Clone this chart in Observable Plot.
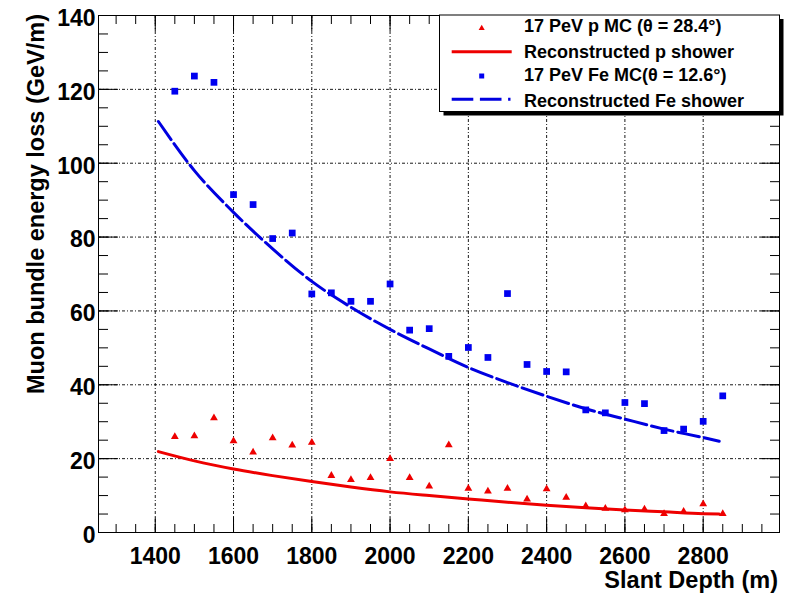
<!DOCTYPE html>
<html>
<head>
<meta charset="utf-8">
<script src="https://cdn.jsdelivr.net/npm/d3@7"></script>
<script src="https://cdn.jsdelivr.net/npm/@observablehq/plot@0.6"></script>
<style>
  html, body { margin: 0; padding: 0; background: #fff; }
  svg { display: block; }
</style>
</head>
<body>
<div id="chart"></div>
<script>
// Simulated points (slant depth in m, energy loss in GeV/m)
const depth = [1450, 1500, 1550, 1600, 1650, 1700, 1750, 1800, 1850, 1900,
               1950, 2000, 2050, 2100, 2150, 2200, 2250, 2300, 2350, 2400,
               2450, 2500, 2550, 2600, 2650, 2700, 2750, 2800, 2850];
const pLoss = [25.9, 26.1, 31.0, 24.8, 21.7, 25.6, 23.6, 24.4, 15.4, 14.3,
               14.8, 20.0, 14.8, 12.5, 23.7, 11.9, 11.2, 11.9, 9.0, 11.8,
               9.5, 7.2, 6.5, 6.1, 6.3, 5.1, 5.7, 7.7, 5.1];
const feLoss = [119.5, 123.6, 121.9, 91.5, 88.8, 79.6, 81.1, 64.6, 64.9, 62.6,
                62.6, 67.3, 54.8, 55.2, 47.7, 50.1, 47.4, 64.7, 45.5, 43.6,
                43.5, 33.2, 32.4, 35.2, 34.9, 27.6, 28.0, 30.1, 37.0];

// Reconstructed shower curves
const fitDepth = [1408, 1500, 1600, 1700, 1800, 1900, 2000, 2100, 2200, 2300,
                  2400, 2500, 2600, 2700, 2800, 2841];
const pFit = [21.9, 19.4, 17.2, 15.4, 13.8, 12.3, 11.0, 10.0, 9.1, 8.2,
              7.4, 6.7, 6.1, 5.6, 5.1, 5.0];
const feFit = [111.3, 98.0, 86.7, 76.8, 68.0, 61.0, 55.0, 49.7, 44.7, 40.6,
               36.9, 33.5, 30.7, 28.0, 25.7, 24.7];

// Axis ticks
const xMajor = [1400, 1600, 1800, 2000, 2200, 2400, 2600, 2800];
const xMinor = d3.range(1300, 2951, 50);
const yMajor = [0, 20, 40, 60, 80, 100, 120, 140];
const yMinor = d3.range(0, 141, 5);
const yGrid = [20, 40, 60, 80, 100, 120];

const legendLabels = [
  "17 PeV p MC (\u03b8 = 28.4\u00b0)",
  "Reconstructed p shower",
  "17 PeV Fe MC(\u03b8 = 12.6\u00b0)",
  "Reconstructed Fe shower"
];

const RED = "#ee0000";
const BLUE = "#0000f0";
const FONT = "'Liberation Sans', Arial, Helvetica, sans-serif";

const pPoints = depth.map((d, i) => ({depth: d, loss: pLoss[i]}));
const fePoints = depth.map((d, i) => ({depth: d, loss: feLoss[i]}));
const pCurve = fitDepth.map((d, i) => ({depth: d, loss: pFit[i]}));
const feCurve = fitDepth.map((d, i) => ({depth: d, loss: feFit[i]}));

const gridStyle = {stroke: "#000", strokeOpacity: 0.9, strokeWidth: 1, strokeDasharray: "3,2,1,2"};
const tickStyle = {fill: "none", stroke: "#000", strokeWidth: 1, label: null};
const labelStyle = {tickSize: 0, fontSize: 23, fontWeight: "bold", fill: "#000", label: null,
                    tickFormat: d => String(d)};

const chart = Plot.plot({
  width: 785,
  height: 593,
  marginLeft: 98,
  marginRight: 6,
  marginTop: 15,
  marginBottom: 61,
  style: {fontFamily: FONT, background: "#fff", color: "#000"},
  x: {domain: [1255, 2995]},
  y: {domain: [0, 140]},
  marks: [
    Plot.gridX(xMajor, gridStyle),
    Plot.gridY(yGrid, gridStyle),
    Plot.line(pCurve, {x: "depth", y: "loss", stroke: RED, strokeWidth: 3, curve: "monotone-x"}),
    Plot.line(feCurve, {x: "depth", y: "loss", stroke: "#0000e0", strokeWidth: 3,
                        strokeDasharray: "22,5", curve: "monotone-x"}),
    Plot.dot(pPoints, {x: "depth", y: "loss", symbol: "triangle", r: 2.9, fill: RED, stroke: "none"}),
    Plot.dot(fePoints, {x: "depth", y: "loss", symbol: "square", r: 3.8, fill: BLUE, stroke: "none"}),
    Plot.frame({stroke: "#000", strokeWidth: 1}),
    // inward ticks on all four sides
    Plot.axisX({...tickStyle, anchor: "bottom", ticks: xMinor, tickSize: -8}),
    Plot.axisX({...tickStyle, anchor: "bottom", ticks: xMajor, tickSize: -15}),
    Plot.axisX({...tickStyle, anchor: "top", ticks: xMinor, tickSize: -8}),
    Plot.axisX({...tickStyle, anchor: "top", ticks: xMajor, tickSize: -15}),
    Plot.axisY({...tickStyle, anchor: "left", ticks: yMinor, tickSize: -10}),
    Plot.axisY({...tickStyle, anchor: "left", ticks: yMajor, tickSize: -20}),
    Plot.axisY({...tickStyle, anchor: "right", ticks: yMinor, tickSize: -10}),
    Plot.axisY({...tickStyle, anchor: "right", ticks: yMajor, tickSize: -20}),
    // tick labels
    Plot.axisX({...labelStyle, anchor: "bottom", ticks: xMajor, tickPadding: 15}),
    Plot.axisY({...labelStyle, anchor: "left", ticks: yMajor, tickPadding: 3, dy: 3})
  ]
});

document.getElementById("chart").appendChild(chart);

const svg = d3.select(chart);

// Axis titles
svg.append("text")
  .attr("transform", "translate(43.5,204) rotate(-90)")
  .attr("text-anchor", "middle")
  .attr("font-family", FONT)
  .attr("font-weight", "bold")
  .attr("font-size", 23.5)
  .attr("fill", "#000")
  .text("Muon bundle energy loss (GeV/m)");

svg.append("text")
  .attr("x", 778)
  .attr("y", 588)
  .attr("text-anchor", "end")
  .attr("font-family", FONT)
  .attr("font-weight", "bold")
  .attr("font-size", 23.5)
  .attr("fill", "#000")
  .text("Slant Depth (m)");

// Legend box with drop shadow
const lg = svg.append("g");
const box = {x: 439.5, y: 15, w: 340, h: 96.5};
lg.append("rect")
  .attr("x", box.x + 4).attr("y", box.y + 4)
  .attr("width", box.w).attr("height", box.h)
  .attr("fill", "#000");
lg.append("rect")
  .attr("x", box.x).attr("y", box.y)
  .attr("width", box.w).attr("height", box.h)
  .attr("fill", "#fff").attr("stroke", "#000").attr("stroke-width", 1);

const symX = 481.7;
lg.append("path")
  .attr("transform", `translate(${symX},28.3)`)
  .attr("d", d3.symbol(d3.symbolTriangle, 16)())
  .attr("fill", RED);
lg.append("line")
  .attr("x1", 451.7).attr("x2", 511.7).attr("y1", 51.7).attr("y2", 51.7)
  .attr("stroke", RED).attr("stroke-width", 3);
lg.append("path")
  .attr("transform", `translate(${symX},76)`)
  .attr("d", d3.symbol(d3.symbolSquare, 25)())
  .attr("fill", BLUE);
lg.append("line")
  .attr("x1", 451.7).attr("x2", 511.7).attr("y1", 99.3).attr("y2", 99.3)
  .attr("stroke", "#0000e0").attr("stroke-width", 3)
  .attr("stroke-dasharray", "21.6,6.6,21.6,6.6,2.4,6.6");

const baselines = [31.7, 58.3, 81.3, 107.3];
legendLabels.forEach((t, i) => {
  lg.append("text")
    .attr("x", 524).attr("y", baselines[i])
    .attr("text-anchor", "start")
    .attr("font-family", FONT)
    .attr("font-weight", "bold")
    .attr("font-size", 18)
    .attr("fill", "#000")
    .text(t);
});
</script>
</body>
</html>
